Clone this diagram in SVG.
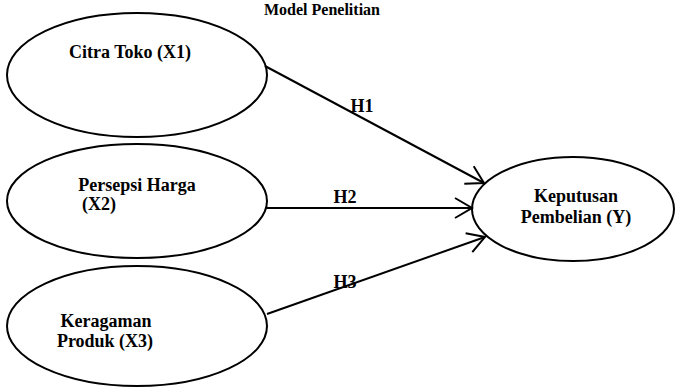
<svg xmlns="http://www.w3.org/2000/svg" width="676" height="388" viewBox="0 0 676 388">
<style>
.node ellipse{fill:#fff;stroke:#000;stroke-width:2}
text{font-family:"Liberation Serif","Times New Roman",serif;font-weight:bold;fill:#000;text-anchor:middle}
.lbl{font-size:18px}
.title{font-size:16px}
.edge line{stroke:#000;stroke-width:2;fill:none}
</style>
<defs>
<marker id="arr" markerUnits="userSpaceOnUse" viewBox="-20 -12 22 24" refX="0" refY="0" markerWidth="22" markerHeight="24" orient="auto">
<path d="M-17,-10 L0,0 L-17,10" fill="none" stroke="#000" stroke-width="2"/>
</marker>
</defs>
<rect width="676" height="388" fill="#fff"/>
<text class="title" x="322" y="15">Model Penelitian</text>
<g id="x1" class="node">
<ellipse cx="137" cy="75" rx="130" ry="62"/>
<text class="lbl" x="130" y="58">Citra Toko (X1)</text>
</g>
<g id="x2" class="node">
<ellipse cx="137" cy="201" rx="130" ry="57"/>
<text class="lbl" x="137" y="191">Persepsi Harga</text>
<text class="lbl" x="99" y="210">(X2)</text>
</g>
<g id="x3" class="node">
<ellipse cx="137" cy="326" rx="130" ry="60"/>
<text class="lbl" x="106" y="327">Keragaman</text>
<text class="lbl" x="105" y="347">Produk (X3)</text>
</g>
<g id="y" class="node">
<ellipse cx="573" cy="209" rx="101" ry="52"/>
<text class="lbl" x="576" y="202">Keputusan</text>
<text class="lbl" x="576" y="223">Pembelian (Y)</text>
</g>
<g id="connectors" class="edge">
<line x1="265" y1="66" x2="484" y2="183" marker-end="url(#arr)"/>
<line x1="266" y1="208" x2="472" y2="208" marker-end="url(#arr)"/>
<line x1="267" y1="314" x2="485" y2="237" marker-end="url(#arr)"/>
<text class="lbl" x="362" y="112">H1</text>
<text class="lbl" x="345" y="203">H2</text>
<text class="lbl" x="345" y="288">H3</text>
</g>
</svg>
